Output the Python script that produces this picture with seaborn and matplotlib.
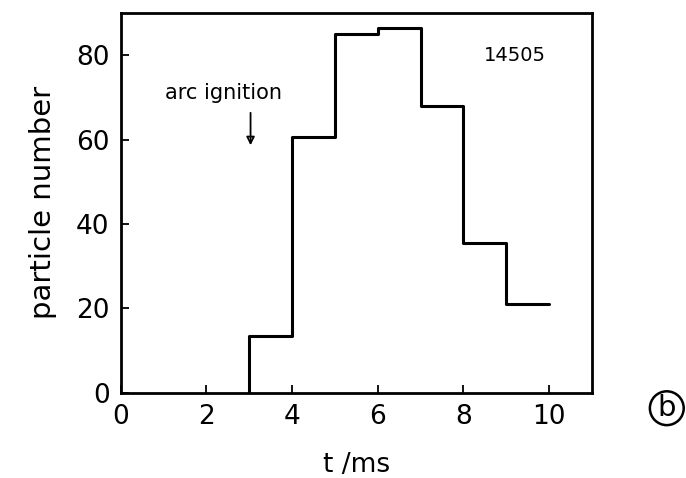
import matplotlib
matplotlib.use("Agg")
import matplotlib.pyplot as plt
import seaborn as sns
import numpy as np
import pandas as pd

# data
t_edges = [3, 4, 5, 6, 7, 8, 9, 10]
counts = [13.5, 60.5, 85, 86.5, 68, 35.5, 21]
x_ticks = [0, 2, 4, 6, 8, 10]
y_ticks = [0, 20, 40, 60, 80]

sns.set_theme(style="ticks")
plt.rcParams['font.family'] = ['DejaVu Sans']

fig = plt.figure(figsize=(6.86, 4.78), dpi=100)
ax = fig.add_axes([0.176, 0.178, 0.687, 0.795])

# step line: starts at 0 at t=3, rises, ends at t=10
xs = [t_edges[0]]
ys = [0]
for i, c in enumerate(counts):
    xs += [t_edges[i], t_edges[i + 1]]
    ys += [c, c]
df = pd.DataFrame({"t": xs, "n": ys})
sns.lineplot(data=df, x="t", y="n", sort=False, ax=ax, color="black", lw=2.2, estimator=None)

ax.set_xlim(0, 11)
ax.set_ylim(0, 90)
ax.set_xticks(x_ticks)
ax.set_yticks(y_ticks)
ax.tick_params(direction="in", length=6, width=1.3, labelsize=19, color="black", labelcolor="black", pad=8)
for s in ax.spines.values():
    s.set_linewidth(2)
    s.set_color("black")
ax.set_xlabel("t /ms", fontsize=19, labelpad=16, color="black")
ax.set_ylabel("particle number", fontsize=21, labelpad=14, color="black")

ax.text(9.2, 80, "14505", fontsize=14, ha="center", va="center", color="black")
ax.text(2.4, 71, "arc ignition", fontsize=15, ha="center", va="center", color="black")
ax.annotate("", xy=(3.03, 58), xytext=(3.03, 67),
            arrowprops=dict(arrowstyle="-|>", color="black", lw=1.3, mutation_scale=12, fill=False))

fig.text(0.972, 0.146, "b", fontsize=21, ha="center", va="center", color="black",
         bbox=dict(boxstyle="circle,pad=0.1", fc="white", ec="black", lw=1.8))

fig.savefig("out.png", dpi=100)
